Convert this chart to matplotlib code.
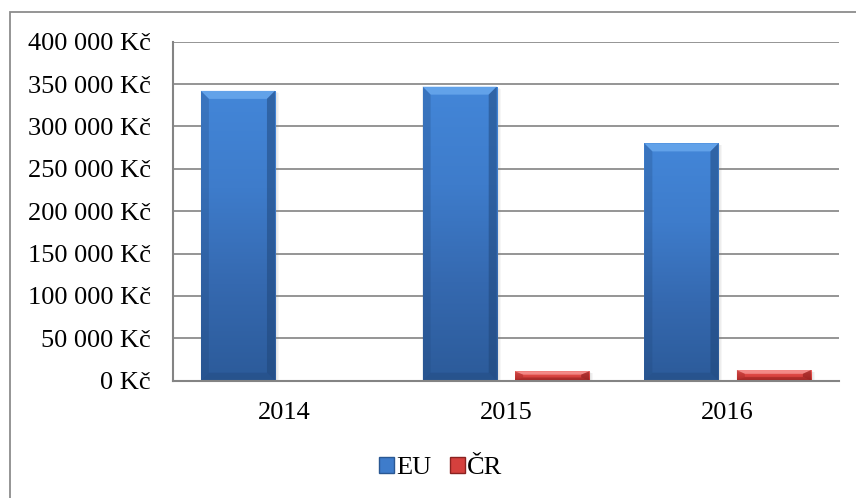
import matplotlib
matplotlib.use('Agg')
import matplotlib.pyplot as plt
import numpy as np
from matplotlib.patches import Polygon, Rectangle, Patch
from matplotlib.colors import LinearSegmentedColormap
from matplotlib.ticker import FuncFormatter

# data
roky = ['2014', '2015', '2016']
eu = [342000, 347000, 280000]
cr = [0, 11000, 12500]
serie = ['EU', 'ČR']
y_ticky = [0, 50000, 100000, 150000, 200000, 250000, 300000, 350000, 400000]

plt.rcParams['font.family'] = ['Liberation Serif', 'DejaVu Serif']

fig = plt.figure(figsize=(8.56, 4.98), dpi=100)
ax = fig.add_axes([173.3/856, 1-380.7/498, (838.5-173.3)/856, (380.7-41.7)/498])

x = np.arange(len(roky))
w = 0.334
off = 0.2085

modra = LinearSegmentedColormap.from_list('modra', ['#2c5b9a', '#3569b0', '#3e7ccb', '#4386d8'])
cervena = LinearSegmentedColormap.from_list('cervena', ['#b32a28', '#d23f3c', '#e04a47', '#ef6b68'])

bars_eu = ax.bar(x - off, eu, w, color='none', zorder=3)
bars_cr = ax.bar(x + off, cr, w, color='none', zorder=3)

ax.set_xlim(-0.5, 2.5)
ax.set_ylim(0, 400000)

px_x = 1/221.6          # one pixel in x data units
px_y = 400000/339.0     # one pixel in y data units


def kresli(bars, cmap, svetla, tmava):
    for b in bars:
        x0, y0 = b.get_x(), b.get_y()
        x1, y1 = x0 + b.get_width(), y0 + b.get_height()
        h = b.get_height()
        if h <= 0:
            continue
        # soft shadow
        for k in range(1, 5):
            ax.add_patch(Rectangle((x0 + k*px_x, y0), x1 - x0, h - k*px_y*0.5,
                                   color='grey', alpha=0.07, lw=0, zorder=2))
        grad = np.linspace(0, 1, 100).reshape(-1, 1)
        im = ax.imshow(grad, extent=[x0, x1, y0, y1], origin='lower', aspect='auto',
                       cmap=cmap, zorder=3, interpolation='bilinear')
        im.set_clip_path(b)
        bx = min(8*px_x, (x1-x0)*0.3)
        by = min(8*px_y, h*0.35)
        # top bevel
        ax.add_patch(Polygon([(x0, y1), (x1, y1), (x1-bx, y1-by), (x0+bx, y1-by)],
                             closed=True, color=svetla, alpha=0.75, lw=0, zorder=4))
        # bottom bevel
        ax.add_patch(Polygon([(x0, y0), (x1, y0), (x1-bx, y0+by), (x0+bx, y0+by)],
                             closed=True, color=tmava, alpha=0.35, lw=0, zorder=4))
        # sides
        ax.add_patch(Polygon([(x0, y0), (x0+bx, y0+by), (x0+bx, y1-by), (x0, y1)],
                             closed=True, color=tmava, alpha=0.25, lw=0, zorder=4))
        ax.add_patch(Polygon([(x1, y0), (x1-bx, y0+by), (x1-bx, y1-by), (x1, y1)],
                             closed=True, color=tmava, alpha=0.5, lw=0, zorder=4))


kresli(bars_eu, modra, '#6eacf0', '#1f4577')
kresli(bars_cr, cervena, '#f79a98', '#7a1514')

ax.set_xlim(-0.5, 2.5)
ax.set_ylim(0, 400000)

ax.set_yticks(y_ticky)
ax.yaxis.set_major_formatter(FuncFormatter(lambda v, p: '{:,.0f} Kč'.format(v).replace(',', ' ')))
ax.set_xticks(x)
ax.set_xticklabels(roky)
ax.tick_params(axis='both', length=0, labelsize=19)
ax.tick_params(axis='y', pad=16)
ax.tick_params(axis='x', pad=15)

ax.grid(axis='y', color='#8c8c8c', linewidth=1.3, zorder=1)
ax.set_axisbelow(True)
for s in ['top', 'right']:
    ax.spines[s].set_visible(False)
for s in ['left', 'bottom']:
    ax.spines[s].set_color('#848484')
    ax.spines[s].set_linewidth(1.5)
    ax.spines[s].set_zorder(5)

# outer chart border (only top and left visible in the crop)
fig.add_artist(Rectangle((9.5/856, -0.5), 2, 1.5 - 12/498 , transform=fig.transFigure,
                         fill=False, edgecolor='#8c8c8c', linewidth=1.3, clip_on=False))

handles = [Patch(facecolor='#3e7ccb', edgecolor='#2a5893', linewidth=1),
           Patch(facecolor='#d5403d', edgecolor='#8a2220', linewidth=1)]
fig.legend(handles, serie, loc='center', bbox_to_anchor=(441/856, 1-468/498),
           ncol=2, frameon=False, fontsize=19, handlelength=0.55, handleheight=0.55,
           handletextpad=0.1, columnspacing=0.7)

fig.savefig('out.png', dpi=100)
